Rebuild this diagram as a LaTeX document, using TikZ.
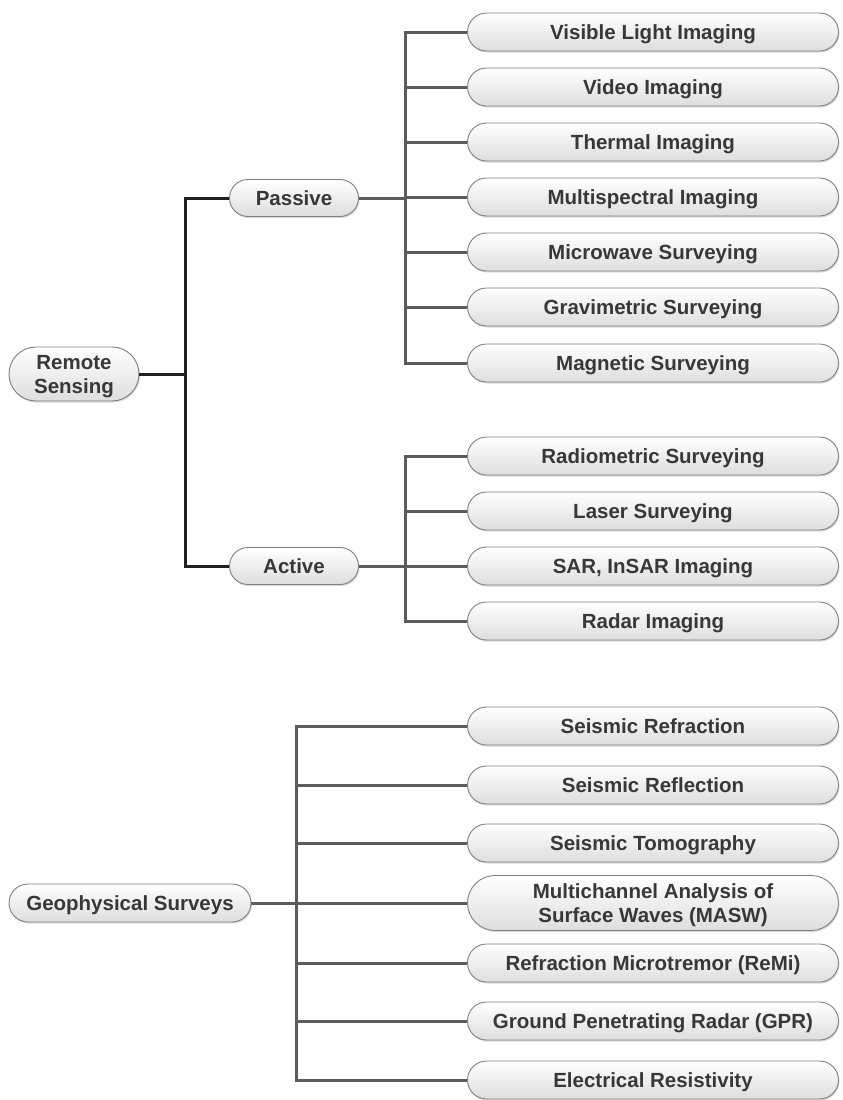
\documentclass[tikz,border=0pt]{standalone}
\usepackage{fontspec}
\setmainfont{Liberation Sans}
\usetikzlibrary{shapes.misc}
\usetikzlibrary{shadows}
\tikzstyle{pill}=[rounded rectangle, draw=black!50, line width=0.9pt, top color=white, bottom color=black!13, text=black!78, font=\bfseries\fontsize{20.5}{24}\selectfont, inner sep=0pt, text depth=0pt, align=center, drop shadow={shadow xshift=1pt, shadow yshift=-1.5pt, opacity=0.3}]
\tikzstyle{leaf}=[pill, minimum width=371pt, minimum height=38pt]
\tikzstyle{branch}=[pill, minimum width=129pt, minimum height=37pt]
\tikzstyle{link} = [draw, line width=3pt, black!64]
\tikzstyle{rootlink} = [draw, line width=3pt, black!87]

\begin{document}
\begin{tikzpicture}[x=1pt, y=-1pt]
    \useasboundingbox (0,0) rectangle (843,1100);

    % remote sensing tree
    \node[pill, minimum width=130pt, minimum height=54pt] (rs) at (74,374) {Remote\\Sensing};
    \node[branch] (passive) at (294,198) {Passive};
    \node[branch] (active) at (294,566) {Active};

    \foreach \pos/\name/\txt in {{(653,32)/vis/Visible Light Imaging}, {(653,87)/vid/Video Imaging},
        {(653,142)/the/Thermal Imaging}, {(653,197)/mul/Multispectral Imaging},
        {(653,252)/mic/Microwave Surveying}, {(653,307)/gra/Gravimetric Surveying},
        {(653,363)/mag/Magnetic Surveying}, {(653,456)/rad/Radiometric Surveying},
        {(653,511)/las/Laser Surveying}, {(653,566)/sar/{SAR, InSAR Imaging}},
        {(653,621)/rdr/Radar Imaging}}
        \node[leaf] (\name) at \pos {\txt};

    \coordinate (rsj) at (185,374);
    \coordinate (pj) at (405,0);
    \coordinate (aj) at (405,0);

    \path[link] (passive.east) -- (pj |- passive.east);
    \path[link] (vis.west) -| (pj |- mag.west) -- (mag.west);
    \foreach \n in {vid,the,mul,mic,gra}
        \path[link] (pj |- \n.west) -- (\n.west);

    \path[link] (active.east) -- (aj |- active.east);
    \path[link] (rad.west) -| (aj |- rdr.west) -- (rdr.west);
    \foreach \n in {las,sar}
        \path[link] (aj |- \n.west) -- (\n.west);

    \path[rootlink] (rs.east) -- (rsj);
    \path[rootlink] (passive.west) -| (rsj) |- (active.west);

    % geophysical surveys tree
    \node[pill, minimum width=242pt, minimum height=38pt] (geo) at (130,903) {Geophysical Surveys};

    \foreach \pos/\name/\txt in {{(653,726)/srf/Seismic Refraction}, {(653,785)/srl/Seismic Reflection},
        {(653,843)/sto/Seismic Tomography}, {(653,963)/remi/Refraction Microtremor (ReMi)},
        {(653,1021)/gpr/Ground Penetrating Radar (GPR)}, {(653,1080)/ers/Electrical Resistivity}}
        \node[leaf] (\name) at \pos {\txt};
    \node[leaf, minimum height=55pt] (masw) at (653,903) {Multichannel Analysis of\\Surface Waves (MASW)};

    \coordinate (gj) at (296,0);
    \path[link] (geo.east) -- (gj |- geo.east);
    \path[link] (srf.west) -| (gj |- ers.west) -- (ers.west);
    \foreach \n in {srl,sto,masw,remi,gpr}
        \path[link] (gj |- \n.west) -- (\n.west);

\end{tikzpicture}
\end{document}
